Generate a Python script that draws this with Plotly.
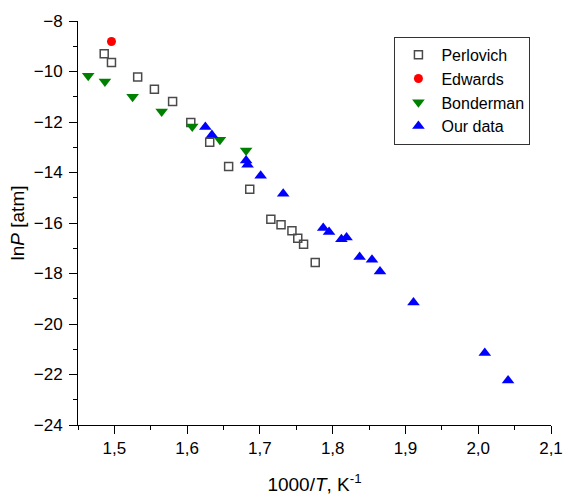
import plotly.graph_objects as go

# Perlovich (open squares)
perl_x = [1.486, 1.496, 1.532, 1.555, 1.580, 1.605, 1.631, 1.657, 1.686, 1.715,
          1.729, 1.744, 1.752, 1.760, 1.776]
perl_y = [-9.30, -9.64, -10.22, -10.70, -11.19, -12.02, -12.80, -13.76, -14.66, -15.85,
          -16.07, -16.31, -16.60, -16.84, -17.56]

# Edwards (red circle)
edw_x = [1.496]
edw_y = [-8.81]

# Bonderman (green down triangles)
bond_x = [1.464, 1.487, 1.525, 1.565, 1.607, 1.645, 1.681]
bond_y = [-10.17, -10.40, -11.00, -11.58, -12.18, -12.70, -13.13]

# Our data (blue up triangles)
our_x = [1.625, 1.634, 1.681, 1.683, 1.701, 1.732, 1.787, 1.795, 1.812, 1.819,
         1.837, 1.854, 1.865, 1.911, 2.009, 2.041]
our_y = [-12.20, -12.51, -13.52, -13.69, -14.13, -14.84, -16.20, -16.36, -16.64, -16.57,
         -17.35, -17.46, -17.92, -19.15, -21.15, -22.24]

x_ticks = [1.5, 1.6, 1.7, 1.8, 1.9, 2.0, 2.1]
y_ticks = [-8, -10, -12, -14, -16, -18, -20, -22, -24]

FONT = "Liberation Sans, Arial, sans-serif"

fig = go.Figure()
fig.add_trace(go.Scatter(x=perl_x, y=perl_y, mode="markers", name="Perlovich",
                         marker=dict(symbol="square-open", size=8, color="#4a4a4a",
                                     line=dict(width=1.5, color="#4a4a4a"))))
fig.add_trace(go.Scatter(x=edw_x, y=edw_y, mode="markers", name="Edwards",
                         marker=dict(symbol="circle", size=9, color="#ff0000")))
fig.add_trace(go.Scatter(x=bond_x, y=bond_y, mode="markers", name="Bonderman",
                         marker=dict(symbol="triangle-down", size=11, color="#008000")))
fig.add_trace(go.Scatter(x=our_x, y=our_y, mode="markers", name="Our data",
                         marker=dict(symbol="triangle-up", size=11, color="#0000ff")))

fig.update_layout(
    width=564, height=497,
    margin=dict(l=77.5, r=13.3, t=21.2, b=71.8, autoexpand=False),
    paper_bgcolor="white", plot_bgcolor="white",
    font=dict(family=FONT, size=16, color="black"),
    separators=", ",
    showlegend=True,
    legend=dict(x=0.669, y=0.961, xanchor="left", yanchor="top",
                bordercolor="#333333", borderwidth=1, bgcolor="white",
                itemwidth=36,
                font=dict(family=FONT, size=16, color="black")),
)
fig.update_xaxes(
    range=[1.45, 2.1], tickvals=x_ticks, tickformat=".1f",
    showline=True, linecolor="black", linewidth=1, mirror=False,
    showgrid=False, zeroline=False,
    ticks="outside", ticklen=8, tickwidth=1, tickcolor="black",
    minor=dict(dtick=0.05, tick0=1.45, ticks="outside", ticklen=4, tickcolor="black", showgrid=False),
    title=dict(text="1000/<i>T</i>, K<sup>-1</sup>", font=dict(size=19), standoff=20),
    tickfont=dict(size=17),
)
fig.update_yaxes(
    range=[-24, -8], tickvals=y_ticks,
    showline=True, linecolor="black", linewidth=1, mirror=False,
    showgrid=False, zeroline=False,
    ticks="outside", ticklen=8, tickwidth=1, tickcolor="black",
    ticklabelstandoff=3,
    minor=dict(dtick=1, tick0=-24, ticks="outside", ticklen=4, tickcolor="black", showgrid=False),
    title=dict(text="ln<i>P</i> [atm]", font=dict(size=19), standoff=4),
    tickfont=dict(size=17),
)

fig.write_html("out.html")
